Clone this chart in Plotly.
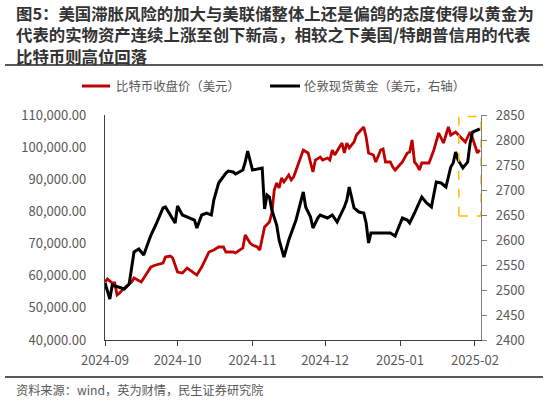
import plotly.graph_objects as go

# ---------------- data ----------------
btc_dates = [
    "2024-09-01", "2024-09-02", "2024-09-04", "2024-09-05", "2024-09-06", "2024-09-07",
    "2024-09-09", "2024-09-12", "2024-09-13", "2024-09-16", "2024-09-20", "2024-09-22",
    "2024-09-25", "2024-09-26", "2024-09-28", "2024-09-29", "2024-10-01", "2024-10-03",
    "2024-10-05", "2024-10-06", "2024-10-09", "2024-10-11", "2024-10-14", "2024-10-16",
    "2024-10-18", "2024-10-20", "2024-10-21", "2024-10-24", "2024-10-25", "2024-10-28",
    "2024-10-29", "2024-10-31", "2024-11-01", "2024-11-03", "2024-11-04", "2024-11-06",
    "2024-11-08", "2024-11-09", "2024-11-10", "2024-11-11", "2024-11-12", "2024-11-13",
    "2024-11-14", "2024-11-16", "2024-11-17", "2024-11-18", "2024-11-21", "2024-11-22",
    "2024-11-24", "2024-11-26", "2024-11-27", "2024-11-29", "2024-11-30", "2024-12-02",
    "2024-12-03", "2024-12-04", "2024-12-05", "2024-12-07", "2024-12-08", "2024-12-09",
    "2024-12-10", "2024-12-11", "2024-12-13", "2024-12-14", "2024-12-17", "2024-12-18",
    "2024-12-19", "2024-12-21", "2024-12-22", "2024-12-24", "2024-12-25", "2024-12-26",
    "2024-12-28", "2024-12-29", "2024-12-30", "2025-01-02", "2025-01-04", "2025-01-05",
    "2025-01-06", "2025-01-07", "2025-01-08", "2025-01-09", "2025-01-10", "2025-01-13",
    "2025-01-15", "2025-01-17", "2025-01-19", "2025-01-21", "2025-01-22", "2025-01-24",
    "2025-01-26", "2025-01-28", "2025-01-30", "2025-01-31", "2025-02-02", "2025-02-03",
]
btc_close = [
    58040, 58970, 57730, 57730, 54000, 54620,
    56180, 58040, 59290, 58040, 62710, 63330,
    63960, 65820, 66130, 65510, 61150, 60840,
    62400, 61780, 60220, 62710, 67380, 68000,
    68930, 68930, 67380, 67380, 67070, 68620,
    72670, 70180, 69560, 68930, 68000, 75160,
    76710, 79510, 86670, 88840, 87290, 90400,
    89160, 91330, 89780, 90710, 96620, 99110,
    98180, 92270, 96000, 96930, 96000, 96620,
    96000, 99110, 97560, 100040, 101290, 98180,
    101290, 99730, 101600, 103780, 106270, 103160,
    98180, 97560, 95380, 99110, 99420, 95380,
    95380, 93820, 92890, 95380, 98180, 98490,
    102220, 95380, 94440, 92890, 95070, 95070,
    99110, 104400, 101290, 106270, 103780, 104710,
    103160, 101600, 104710, 102850, 98180, 99110,
]

gold_dates = [
    "2024-09-01", "2024-09-03", "2024-09-04", "2024-09-07", "2024-09-09", "2024-09-11",
    "2024-09-13", "2024-09-15", "2024-09-17", "2024-09-20", "2024-09-22", "2024-09-25",
    "2024-09-26", "2024-09-30", "2024-10-01", "2024-10-03", "2024-10-05", "2024-10-08",
    "2024-10-09", "2024-10-11", "2024-10-13", "2024-10-15", "2024-10-16", "2024-10-18",
    "2024-10-21", "2024-10-22", "2024-10-24", "2024-10-25", "2024-10-28", "2024-10-29",
    "2024-10-30", "2024-10-31", "2024-11-01", "2024-11-05", "2024-11-06", "2024-11-07",
    "2024-11-08", "2024-11-09", "2024-11-11", "2024-11-12", "2024-11-14", "2024-11-16",
    "2024-11-19", "2024-11-22", "2024-11-23", "2024-11-25", "2024-11-26", "2024-11-28",
    "2024-11-29", "2024-12-02", "2024-12-04", "2024-12-06", "2024-12-09", "2024-12-10",
    "2024-12-11", "2024-12-13", "2024-12-15", "2024-12-17", "2024-12-18", "2024-12-19",
    "2024-12-20", "2024-12-23", "2024-12-26", "2024-12-28", "2024-12-30", "2025-01-02",
    "2025-01-04", "2025-01-05", "2025-01-07", "2025-01-10", "2025-01-12", "2025-01-14",
    "2025-01-16", "2025-01-18", "2025-01-20", "2025-01-22", "2025-01-23", "2025-01-24",
    "2025-01-25", "2025-01-27", "2025-01-29", "2025-01-30", "2025-01-31", "2025-02-02",
    "2025-02-03",
]
gold_price = [
    2514, 2482, 2510, 2505, 2502, 2512,
    2576, 2582, 2570, 2610, 2630, 2664,
    2666, 2634, 2668, 2650, 2646, 2640,
    2624, 2650, 2654, 2650, 2680, 2714,
    2734, 2738, 2736, 2732, 2740, 2756,
    2778, 2756, 2740, 2744, 2662, 2690,
    2686, 2660, 2630, 2600, 2566, 2600,
    2640, 2696, 2666, 2646, 2624, 2644,
    2650, 2644, 2650, 2636, 2666, 2680,
    2706, 2664, 2656, 2654, 2634, 2594,
    2614, 2614, 2614, 2614, 2608, 2644,
    2640, 2634, 2654, 2686, 2674, 2666,
    2716, 2714, 2706, 2746, 2754, 2776,
    2760, 2744, 2756, 2794, 2816, 2820,
    2822,
]

x_tick_vals = ["2024-09-01", "2024-10-01", "2024-11-01", "2024-12-01", "2025-01-01", "2025-02-01"]
x_tick_text = ["2024-09", "2024-10", "2024-11", "2024-12", "2025-01", "2025-02"]
x_range = ["2024-09-01", "2025-02-03 12:00"]
left_range = [40000, 110000]
right_range = [2400, 2850]
highlight_x = ["2025-01-25 08:00", "2025-02-03 12:00"]
highlight_y = [2648, 2847]

series_names = ["比特币收盘价（美元）", "伦敦现货黄金（美元，右轴）"]
series_colors = ["#C00000", "#000000"]
title_lines = [
    "图5：美国滞胀风险的加大与美联储整体上还是偏鸽的态度使得以黄金为",
    "代表的实物资产连续上涨至创下新高，相较之下美国/特朗普信用的代表",
    "比特币则高位回落",
]
source_text = "资料来源：wind，英为财情，民生证券研究院"

# ---------------- figure ----------------
FONT = "Noto Sans CJK SC"
GRAY = "#595959"
L, R, T, B = 105, 481, 115, 340   # plot area in pixels
PW, PH = R - L, B - T


def px(x):
    return (x - L) / PW


def py(y):
    return (B - y) / PH


fig = go.Figure()
fig.add_trace(go.Scatter(
    x=btc_dates, y=btc_close, name=series_names[0], mode="lines",
    line=dict(color=series_colors[0], width=2.8), yaxis="y",
))
fig.add_trace(go.Scatter(
    x=gold_dates, y=gold_price, name=series_names[1], mode="lines",
    line=dict(color=series_colors[1], width=3), yaxis="y2",
))

fig.add_shape(
    type="rect", xref="x", yref="y2",
    x0=highlight_x[0], x1=highlight_x[1], y0=highlight_y[0], y1=highlight_y[1],
    line=dict(color="#FFC000", width=1.5, dash="dash"), fillcolor="rgba(0,0,0,0)",
)

# manual legend
legend_pos = [(82, 110, 114), (270, 300, 302)]
for (x0, x1, xt), name, col in zip(legend_pos, series_names, series_colors):
    fig.add_shape(type="line", xref="paper", yref="paper",
                  x0=px(x0), x1=px(x1), y0=py(86), y1=py(86),
                  line=dict(color=col, width=3))
    fig.add_annotation(text=name, xref="paper", yref="paper",
                       x=px(xt), y=py(86), xanchor="left", yanchor="middle",
                       showarrow=False,
                       font=dict(family=FONT, size=12.4, color=GRAY))

# title (one block, three lines)
fig.add_annotation(
    text="<br>".join("<b>%s</b>" % t for t in title_lines),
    xref="paper", yref="paper", x=px(14), y=py(34.5),
    xanchor="left", yanchor="middle", align="left", showarrow=False,
    font=dict(family=FONT, size=16.4, color="#333333"),
)
# source
fig.add_annotation(
    text=source_text, xref="paper", yref="paper",
    x=px(14), y=py(390),
    xanchor="left", yanchor="middle", showarrow=False,
    font=dict(family=FONT, size=12.2, color=GRAY),
)
# separator lines
for yy in (65, 377):
    fig.add_shape(
        type="line", xref="paper", yref="paper",
        x0=px(5), x1=px(543), y0=py(yy), y1=py(yy),
        line=dict(color="#595959", width=2),
    )

fig.update_layout(
    width=550, height=401,
    margin=dict(l=L, r=550 - R, t=T, b=401 - B),
    paper_bgcolor="white", plot_bgcolor="white",
    font=dict(family=FONT, color=GRAY, size=13),
    showlegend=False,
    xaxis=dict(
        type="date", range=x_range,
        tickvals=x_tick_vals, ticktext=x_tick_text,
        showgrid=False, zeroline=False,
        showline=True, linecolor="#404040", linewidth=1.3,
        ticks="outside", ticklen=5, tickcolor="#404040",
        ticklabelstandoff=3,
        tickfont=dict(family=FONT, size=13, color=GRAY),
    ),
    yaxis=dict(
        range=left_range, dtick=10000, tickformat=",.2f",
        showgrid=False, zeroline=False,
        showline=True, linecolor="#404040", linewidth=1.3,
        ticks="", ticklabelstandoff=15,
        tickfont=dict(family=FONT, size=13, color=GRAY),
    ),
    yaxis2=dict(
        range=right_range, dtick=50, overlaying="y", side="right",
        showgrid=False, zeroline=False,
        showline=True, linecolor="#7F7F7F", linewidth=1.3,
        ticks="outside", ticklen=5, tickcolor="#7F7F7F",
        ticklabelstandoff=6,
        tickfont=dict(family=FONT, size=13, color=GRAY),
    ),
)

fig.write_html("out.html", config={"displayModeBar": False},
               post_script="document.body.style.margin='0px';")
